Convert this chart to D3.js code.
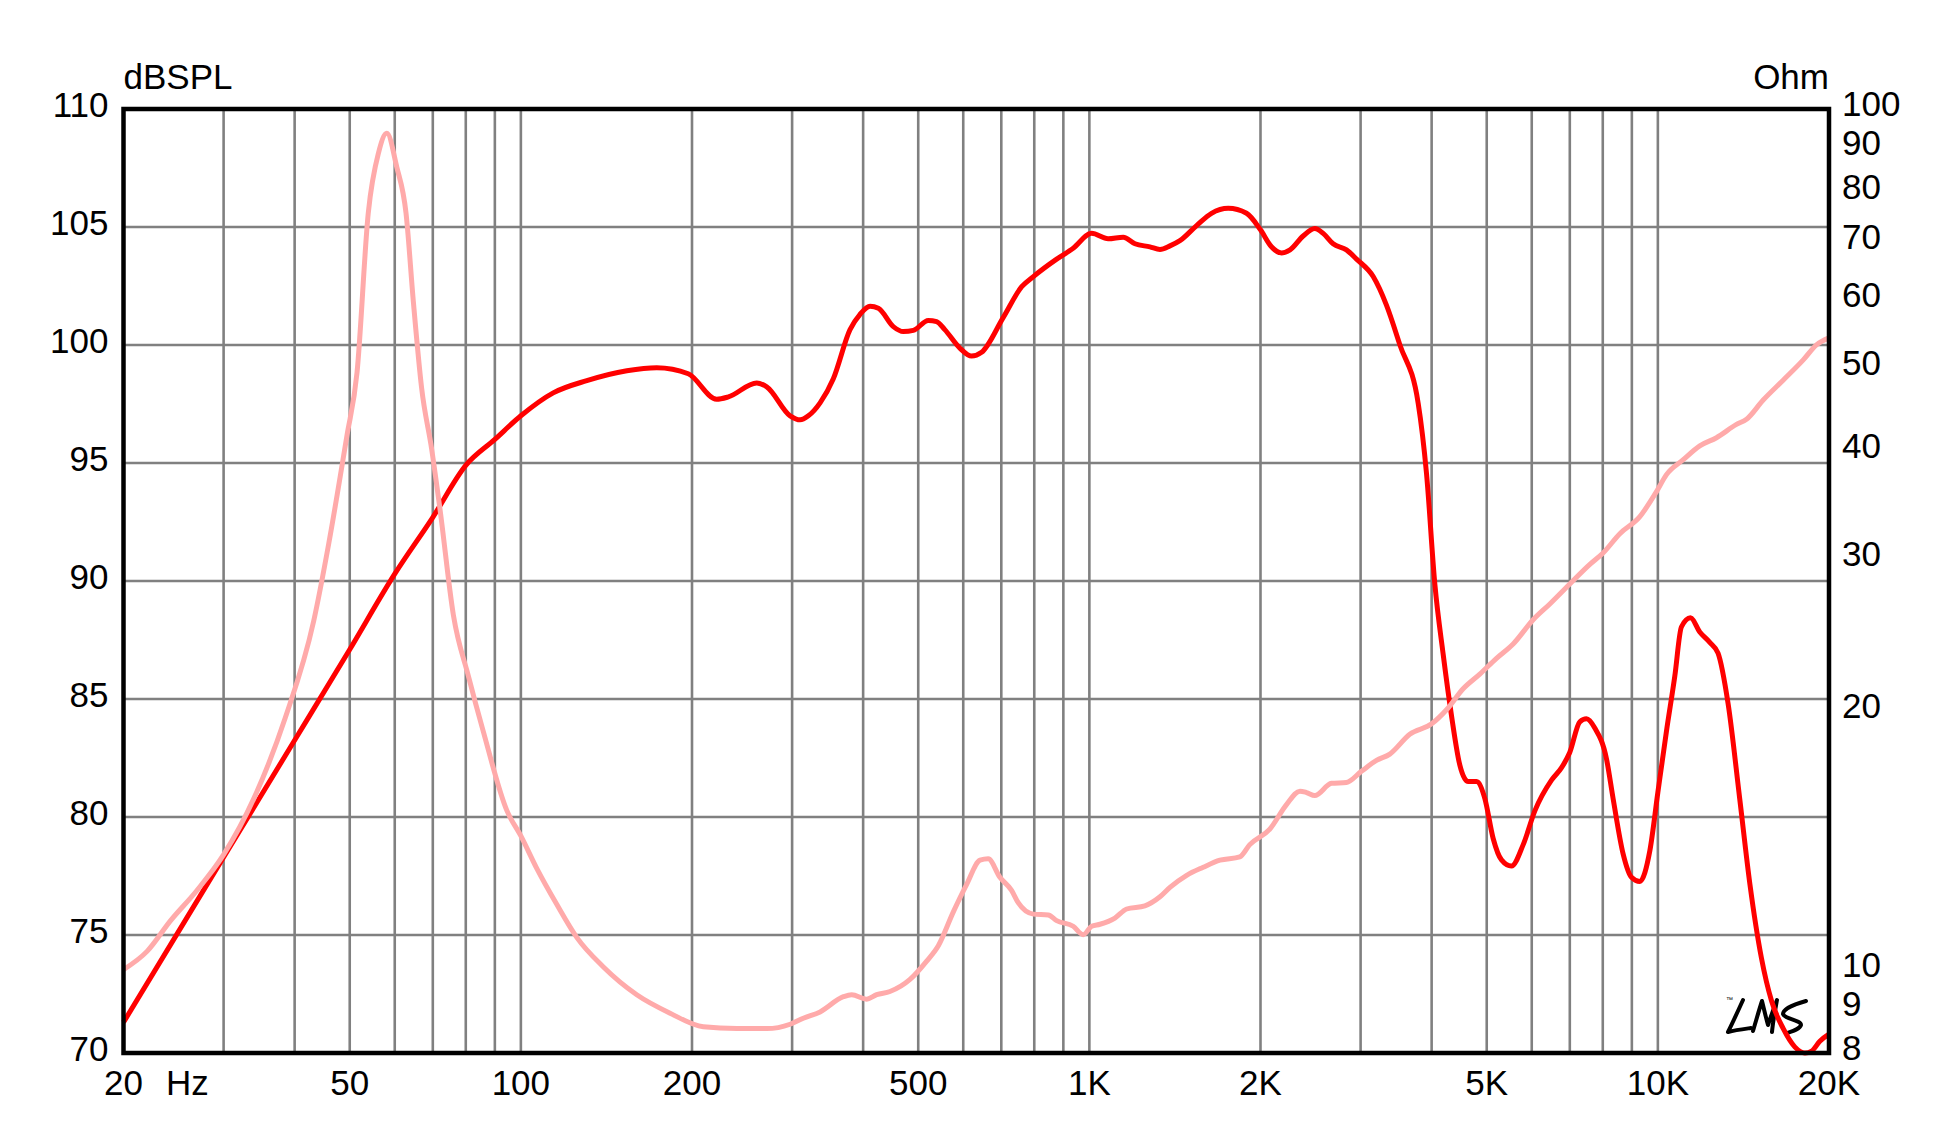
<!DOCTYPE html>
<html>
<head>
<meta charset="utf-8">
<script src="https://cdn.jsdelivr.net/npm/d3@7"></script>
<style>
  html, body { margin: 0; padding: 0; background: #ffffff; }
  svg { display: block; }
  text { font-family: "Liberation Sans", Arial, sans-serif; fill: #000; }
</style>
</head>
<body>
<svg id="chart" width="1946" height="1125"></svg>
<script>
// ---------- DATA ----------
const splFreq = [20,30,40,50,60,70,80,90,100,114,130.6,153.6,173.4,197,221,231.7,260,270.7,297.6,309.9,320.4,336,354.5,379.3,395,411.4,425.5,452,470.7,490.2,520.8,538.7,556.8,591.8,620.5,646.4,705.7,760.3,797,875.9,936.6,1009,1079,1147,1203,1278,1331,1386,1443,1544,1640,1755,1890,2000,2091,2179,2254,2377,2492,2578,2684,2833,2951,3157,3331,3518,3788,3918,4052,4191,4335,4484,4638,4797,4962,5132,5308,5527,5796,6076,6500,6766,6998,7289,7489,7745,8120,8342,8687,8986,9296,9680,10000,10355,10710,11000,11410,11850,12340,12760,13290,13930,14520,15210,15850,16610,17410,18140,18640,19270,20000];
const splDb = [71.3,78.3,83.25,87.1,90.3,92.7,94.9,96.0,97.0,97.97,98.49,98.91,99.04,98.78,97.7,97.8,98.39,98.23,97.0,96.83,97.0,97.55,98.57,100.65,101.3,101.64,101.56,100.78,100.57,100.62,101.04,100.99,100.65,99.87,99.53,99.69,101.17,102.47,102.9,103.64,104.1,104.73,104.5,104.57,104.29,104.16,104.05,104.2,104.42,105.06,105.58,105.79,105.58,104.88,104.16,103.9,104.03,104.62,104.94,104.73,104.29,104.03,103.64,102.9,101.69,100.0,97.53,94.55,89.87,86.9,84.3,82.2,81.5,81.5,80.78,79.09,78.18,77.92,78.83,80.26,81.56,82.08,82.73,84.03,84.16,83.77,82.47,80.78,78.44,77.45,77.27,78.57,81.04,83.64,85.97,88.05,88.44,87.84,87.4,86.94,84.8,80.78,77.14,74.03,72.2,71.04,70.26,70.0,70.08,70.5,70.8];

const zFreq = [20,22,24.2,26.9,30,33.9,38.5,43.2,45.9,49.4,51.5,53.9,56.2,58.1,60.5,62.8,64.7,66.9,69.7,72.1,76.1,80.9,85.9,94.5,100,106.7,115.7,125.4,139.7,159.9,183,209.4,239.8,270.7,297.6,313.9,336,369.2,381.9,405.9,422.6,445.9,483.6,517.4,542.4,576.4,608.4,642.2,663.8,696,729.7,749.6,797,846.8,875.9,936.6,975.4,1009,1044,1109,1163,1252,1331,1386,1483,1586,1697,1839,1915,2077,2222,2346,2410,2492,2666,2833,3010,3199,3377,3661,4000,4249,4544,4862,5202,5565,6034,6456,7000,7592,8000,8572,9296,9939,10355,11070,11850,12680,13750,14320,15320,16610,18020,19010,20000];
const zOhm = [10.0,10.5,11.4,12.35,13.6,15.8,19.6,25.4,31.2,41.6,49.4,75.7,89,93.7,85.6,75.7,59.7,47.4,40.2,34.2,25.8,21.9,18.9,15.3,14.3,13.1,11.9,10.9,10.07,9.35,8.9,8.58,8.54,8.54,8.64,8.78,8.93,9.3,9.35,9.24,9.35,9.43,9.74,10.23,10.66,11.67,12.56,13.4,13.45,12.8,12.36,11.96,11.6,11.57,11.4,11.23,10.98,11.23,11.29,11.48,11.76,11.86,12.15,12.46,12.87,13.15,13.4,13.52,13.97,14.56,15.55,16.12,16.06,15.93,16.46,16.5,17.0,17.5,17.8,18.77,19.3,20.04,21.2,22.05,23.0,23.9,25.5,26.6,28.06,29.57,30.46,32.1,33.6,35.9,37.6,39.1,40.6,41.5,43.0,43.6,45.9,48.4,51.1,53.2,54.2];

const xLabelValues = [20,50,100,200,500,1000,2000,5000,10000,20000];
const xLabelTexts  = ["20","50","100","200","500","1K","2K","5K","10K","20K"];
const xGridValues  = [30,40,50,60,70,80,90,100,200,300,400,500,600,700,800,900,1000,2000,3000,4000,5000,6000,7000,8000,9000,10000];
const leftTicks  = [70,75,80,85,90,95,100,105,110];
const rightTicks = [8,9,10,20,30,40,50,60,70,80,90,100];
const leftTitle = "dBSPL", rightTitle = "Ohm", unitLabel = "Hz";

// ---------- LAYOUT ----------
const L = 123.5, R = 1829, T = 109, B = 1053;
const svg = d3.select("#chart");
svg.append("rect").attr("width",1946).attr("height",1125).attr("fill","#fff");

const x  = d3.scaleLog().domain([20,20000]).range([L,R]);
const yL = d3.scaleLinear().domain([70,110]).range([B,T]);
const yR = d3.scaleLog().domain([8,100]).range([B,T]);

const grid = svg.append("g").attr("stroke","#808080").attr("stroke-width",2.6);
grid.selectAll("line.v").data(xGridValues).join("line")
  .attr("x1",d=>x(d)).attr("x2",d=>x(d)).attr("y1",T).attr("y2",B);
grid.selectAll("line.h").data(leftTicks.slice(1,-1)).join("line")
  .attr("x1",L).attr("x2",R).attr("y1",d=>yL(d)).attr("y2",d=>yL(d));

// left axis labels
const fs = 35;
svg.append("g").selectAll("text").data(leftTicks).join("text")
  .attr("x",L-15).attr("y",d=>yL(d)+8).attr("text-anchor","end")
  .attr("font-size",fs).text(d=>d);
// right axis labels
svg.append("g").selectAll("text").data(rightTicks).join("text")
  .attr("x",R+13).attr("y",d=>yR(d)+7).attr("text-anchor","start")
  .attr("font-size",fs).text(d=>d);
// x labels
svg.append("g").selectAll("text").data(xLabelValues).join("text")
  .attr("x",d=>x(d)).attr("y",1095).attr("text-anchor","middle")
  .attr("font-size",fs).text((d,i)=>xLabelTexts[i]);
svg.append("text").attr("x",166).attr("y",1095).attr("font-size",fs).text(unitLabel);
svg.append("text").attr("x",L).attr("y",89).attr("font-size",fs).text(leftTitle);
svg.append("text").attr("x",R).attr("y",89).attr("text-anchor","end").attr("font-size",fs).text(rightTitle);

// LMS logo (decoration)
const logo = svg.append("g").attr("fill","none").attr("stroke","#000").attr("stroke-width",4)
  .attr("stroke-linecap","round").attr("stroke-linejoin","round");
logo.append("path").attr("d","M1743,1000 C1738,1011 1733,1022 1728,1032 C1736,1030 1744,1029 1751,1028");
logo.append("path").attr("d","M1753,1031 C1756,1021 1759,1010 1762,1001 C1764,1009 1766,1018 1768,1025 C1771,1016 1774,1008 1777,1000 C1775,1011 1773,1021 1772,1032");
logo.append("path").attr("d","M1806,1001 C1795,1004 1783,1009 1783,1014 C1784,1019 1801,1020 1801,1025 C1800,1029 1793,1031 1787,1033");
svg.append("text").attr("x",1726).attr("y",1002).attr("font-size",7).text("™");

// curves
const splData = splFreq.map((f,i)=>[f,splDb[i]]);
const zData = zFreq.map((f,i)=>[f,zOhm[i]]);
const lineSpl = d3.line().x(d=>x(d[0])).y(d=>yL(d[1])).curve(d3.curveMonotoneX);
const lineZ = d3.line().x(d=>x(d[0])).y(d=>yR(d[1])).curve(d3.curveMonotoneX);

svg.append("path").datum(splData).attr("d",lineSpl).attr("fill","none")
  .attr("stroke","#ff0000").attr("stroke-width",5).attr("stroke-linejoin","round");
svg.append("path").datum(zData).attr("d",lineZ).attr("fill","none")
  .attr("stroke","#ffaaaa").attr("stroke-width",5).attr("stroke-linejoin","round");

// frame
svg.append("rect").attr("x",L).attr("y",T).attr("width",R-L).attr("height",B-T)
  .attr("fill","none").attr("stroke","#000").attr("stroke-width",4.5);
</script>
</body>
</html>
